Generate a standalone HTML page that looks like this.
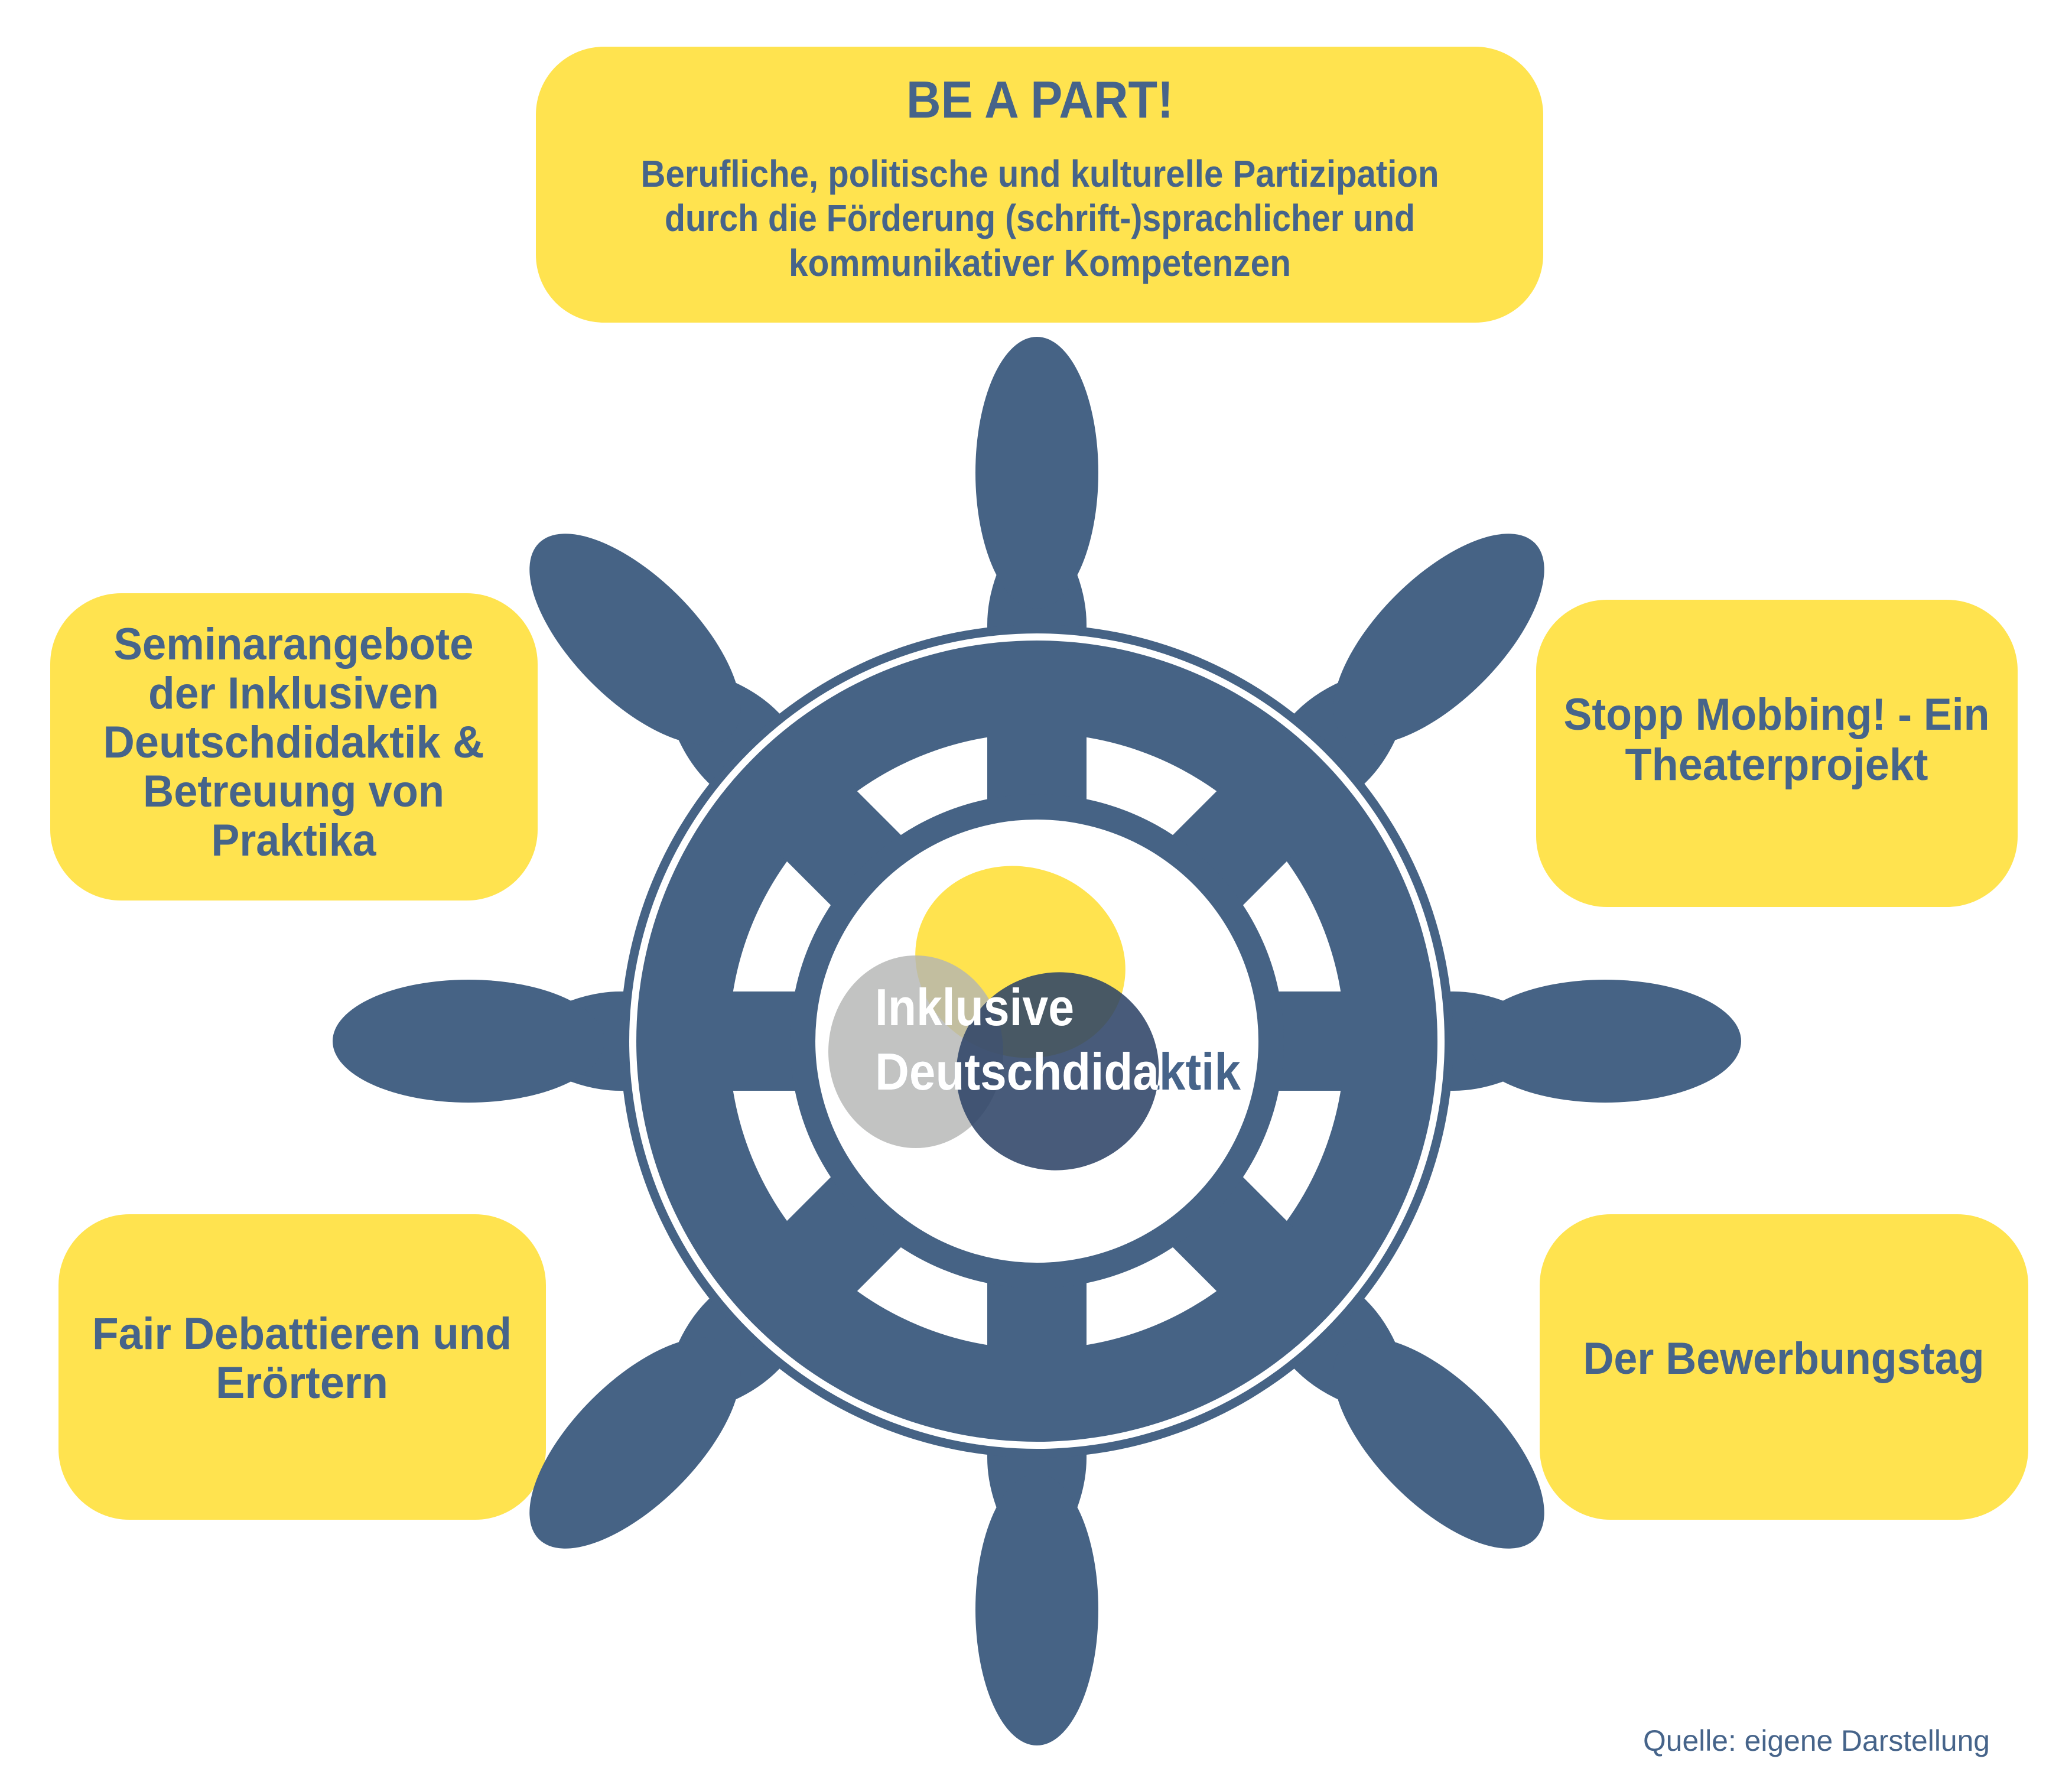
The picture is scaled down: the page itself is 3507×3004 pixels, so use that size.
<!DOCTYPE html>
<html><head><meta charset="utf-8"><style>html,body{margin:0;padding:0;background:#fff}svg{display:block}</style></head><body>
<svg width="3507" height="3004" viewBox="0 0 3507 3004" xmlns="http://www.w3.org/2000/svg">
<defs>
<g id="arm">
<path d="M -84,0 L -84,-705 Q -84,-770 -45,-840 L 45,-840 Q 84,-770 84,-705 L 84,0 Z" fill="#466385"/>
<ellipse cx="0" cy="-962" rx="104" ry="230" fill="#466385"/>
</g>
<clipPath id="blobs">
<ellipse cx="1727" cy="1628" rx="180" ry="160"/>
<ellipse cx="1550" cy="1780" rx="148" ry="163"/>
<ellipse cx="1790" cy="1813" rx="172" ry="167"/>
</clipPath>
</defs>
<g font-family="'Liberation Sans', sans-serif" font-weight="bold" fill="#46648a" text-anchor="middle">
<rect x="907" y="79" width="1705" height="467" rx="115" fill="#FFE34F"/>
<text x="1760" y="199" font-size="88" textLength="452" lengthAdjust="spacingAndGlyphs">BE A PART!</text>
<text x="1760" y="316" font-size="64" textLength="1351" lengthAdjust="spacingAndGlyphs">Berufliche, politische und kulturelle Partizipation</text>
<text x="1760" y="391" font-size="64" textLength="1270" lengthAdjust="spacingAndGlyphs">durch die Förderung (schrift-)sprachlicher und</text>
<text x="1760" y="467" font-size="64" textLength="850" lengthAdjust="spacingAndGlyphs">kommunikativer Kompetenzen</text>

<rect x="85" y="1004" width="825" height="520" rx="120" fill="#FFE34F"/>
<text x="497" y="1116" font-size="76" textLength="609" lengthAdjust="spacingAndGlyphs">Seminarangebote</text>
<text x="497" y="1199" font-size="76" textLength="492" lengthAdjust="spacingAndGlyphs">der Inklusiven</text>
<text x="497" y="1282" font-size="76" textLength="645" lengthAdjust="spacingAndGlyphs">Deutschdidaktik &amp;</text>
<text x="497" y="1365" font-size="76" textLength="510" lengthAdjust="spacingAndGlyphs">Betreuung von</text>
<text x="497" y="1448" font-size="76" textLength="279" lengthAdjust="spacingAndGlyphs">Praktika</text>

<rect x="2600" y="1015" width="815" height="520" rx="120" fill="#FFE34F"/>
<text x="3007" y="1235" font-size="76" textLength="721" lengthAdjust="spacingAndGlyphs">Stopp Mobbing! - Ein</text>
<text x="3007" y="1320" font-size="76" textLength="513" lengthAdjust="spacingAndGlyphs">Theaterprojekt</text>

<rect x="99" y="2055" width="825" height="517" rx="120" fill="#FFE34F"/>
<text x="511" y="2283" font-size="76" textLength="710" lengthAdjust="spacingAndGlyphs">Fair Debattieren und</text>
<text x="511" y="2366" font-size="76" textLength="292" lengthAdjust="spacingAndGlyphs">Erörtern</text>

<rect x="2606" y="2055" width="827" height="517" rx="120" fill="#FFE34F"/>
<text x="3019" y="2325" font-size="76" textLength="679" lengthAdjust="spacingAndGlyphs">Der Bewerbungstag</text>
</g>

<g transform="translate(1755,1762)">
<use href="#arm"/>
<use href="#arm" transform="rotate(45)"/>
<use href="#arm" transform="rotate(90)"/>
<use href="#arm" transform="rotate(135)"/>
<use href="#arm" transform="rotate(180)"/>
<use href="#arm" transform="rotate(225)"/>
<use href="#arm" transform="rotate(270)"/>
<use href="#arm" transform="rotate(315)"/>
<circle r="705" fill="#466385"/>
<circle r="690" fill="#fff"/>
<circle r="678" fill="#466385"/>
<circle r="521" fill="#fff"/>
<rect x="-84" y="-530" width="168" height="1060" fill="#466385"/>
<rect x="-84" y="-530" width="168" height="1060" fill="#466385" transform="rotate(45)"/>
<rect x="-84" y="-530" width="168" height="1060" fill="#466385" transform="rotate(90)"/>
<rect x="-84" y="-530" width="168" height="1060" fill="#466385" transform="rotate(135)"/>
<circle r="418" fill="#466385"/>
<circle r="375" fill="#fff"/>
</g>

<ellipse cx="1727" cy="1628" rx="180" ry="160" fill="#FFE34F" transform="rotate(20 1727 1628)"/>
<ellipse cx="1550" cy="1780" rx="148" ry="163" fill="#b3b4b3" fill-opacity="0.8"/>
<ellipse cx="1790" cy="1813" rx="172" ry="167" fill="#2f4468" fill-opacity="0.88" transform="rotate(-20 1790 1813)"/>

<g font-family="'Liberation Sans', sans-serif" font-weight="bold" font-size="88">
<text x="1481" y="1844" fill="#46648a" textLength="619" lengthAdjust="spacingAndGlyphs">Deutschdidaktik</text>
<g clip-path="url(#blobs)" fill="#fff">
<text x="1481" y="1735" textLength="337" lengthAdjust="spacingAndGlyphs">Inklusive</text>
<text x="1481" y="1844" textLength="619" lengthAdjust="spacingAndGlyphs">Deutschdidaktik</text>
</g>
</g>

<text x="3368" y="2963" font-family="'Liberation Sans', sans-serif" font-size="50" fill="#46648a" text-anchor="end" textLength="587" lengthAdjust="spacingAndGlyphs">Quelle: eigene Darstellung</text>
</svg>
</body></html>
